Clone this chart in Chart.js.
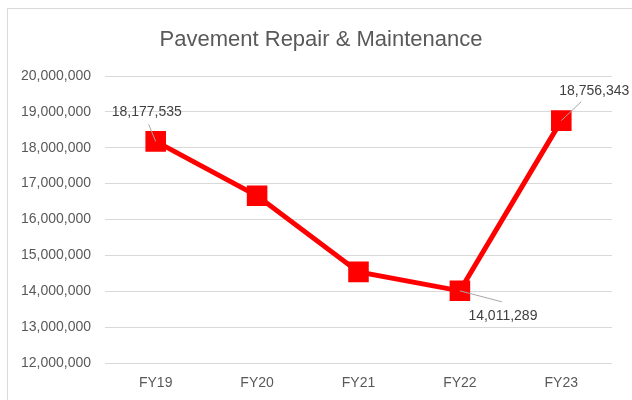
<!DOCTYPE html>
<html>
<head>
<meta charset="utf-8">
<script src="https://cdn.jsdelivr.net/npm/chart.js@4/dist/chart.umd.min.js"></script>
<style>
  body { margin: 0; overflow: hidden; background: #fff; }
  #box { position: absolute; left: 0; top: 0; width: 632px; height: 400px; }
  #frame { position: absolute; left: 7px; top: 8px; width: 700px; height: 500px;
           border: 1px solid #d9d9d9; pointer-events: none; }
</style>
</head>
<body>
<div id="box"><canvas id="repairChart" width="632" height="400"></canvas></div>
<div id="frame"></div>
<script>
const chartTitle = "Pavement Repair & Maintenance";
const years = ["FY19", "FY20", "FY21", "FY22", "FY23"];
const spending = [18177535, 16660000, 14540000, 14011289, 18756343];
const yTicks = [12000000, 13000000, 14000000, 15000000, 16000000, 17000000, 18000000, 19000000, 20000000];
// which points carry a value label, and where it sits relative to the marker
const labelled = { 0: [-9, -29, -7, -17], 3: [43, 25, 42, 11], 4: [33, -29, 20, -19] };

const fmt = (v) => v.toLocaleString("en-US");
const textFont = "'Liberation Sans', Arial, sans-serif";

// title sits a bit right of the canvas centre, like the original
const titleText = {
  id: "titleText",
  afterDraw(chart) {
    const ctx = chart.ctx;
    ctx.save();
    ctx.font = "22px " + textFont;
    ctx.fillStyle = "#595959";
    ctx.textAlign = "center";
    ctx.textBaseline = "middle";
    ctx.fillText(chartTitle, 321, 40);
    ctx.restore();
  },
};

const valueLabels = {
  id: "valueLabels",
  afterDatasetsDraw(chart) {
    const ctx = chart.ctx;
    const pts = chart.getDatasetMeta(0).data;
    ctx.save();
    ctx.font = "14px " + textFont;
    ctx.fillStyle = "#404040";
    ctx.textAlign = "center";
    ctx.textBaseline = "middle";
    ctx.strokeStyle = "#a6a6a6";
    ctx.lineWidth = 1;
    Object.keys(labelled).forEach((i) => {
      const p = pts[i];
      const [dx, dy, lx, ly] = labelled[i];
      ctx.beginPath();
      ctx.moveTo(p.x, p.y);
      ctx.lineTo(p.x + lx, p.y + ly);
      ctx.stroke();
      ctx.fillText(fmt(spending[i]), p.x + dx, p.y + dy);
    });
    ctx.restore();
  },
};

const repairChart = new Chart(document.getElementById("repairChart"), {
  type: "line",
  data: {
    labels: years,
    datasets: [
      {
        label: chartTitle,
        data: spending,
        borderColor: "#ff0000",
        backgroundColor: "#ff0000",
        borderWidth: 5,
        pointStyle: "rect",
        pointRadius: 11,
        pointHoverRadius: 11,
        tension: 0,
      },
    ],
  },
  options: {
    responsive: false,
    animation: false,
    layout: { padding: { top: 76, right: 20, left: 0, bottom: 0 } },
    plugins: {
      legend: { display: false },
      tooltip: { enabled: false },
      title: { display: false },
    },
    scales: {
      x: {
        offset: true,
        grid: { display: false, drawTicks: false },
        border: { display: false },
        ticks: { color: "#595959", font: { family: textFont, size: 14 }, padding: 12 },
        afterFit: (s) => { s.height = 37; },
      },
      y: {
        min: 12000000,
        max: 20000000,
        afterBuildTicks: (s) => { s.ticks = yTicks.map((v) => ({ value: v })); },
        grid: { color: "#d9d9d9", lineWidth: 1, drawTicks: false },
        border: { display: false },
        ticks: {
          color: "#595959",
          font: { family: textFont, size: 14 },
          padding: 14,
          callback: (v) => fmt(v),
        },
        afterFit: (s) => { s.width = 105; },
      },
    },
  },
  plugins: [valueLabels, titleText],
});
</script>
</body>
</html>
